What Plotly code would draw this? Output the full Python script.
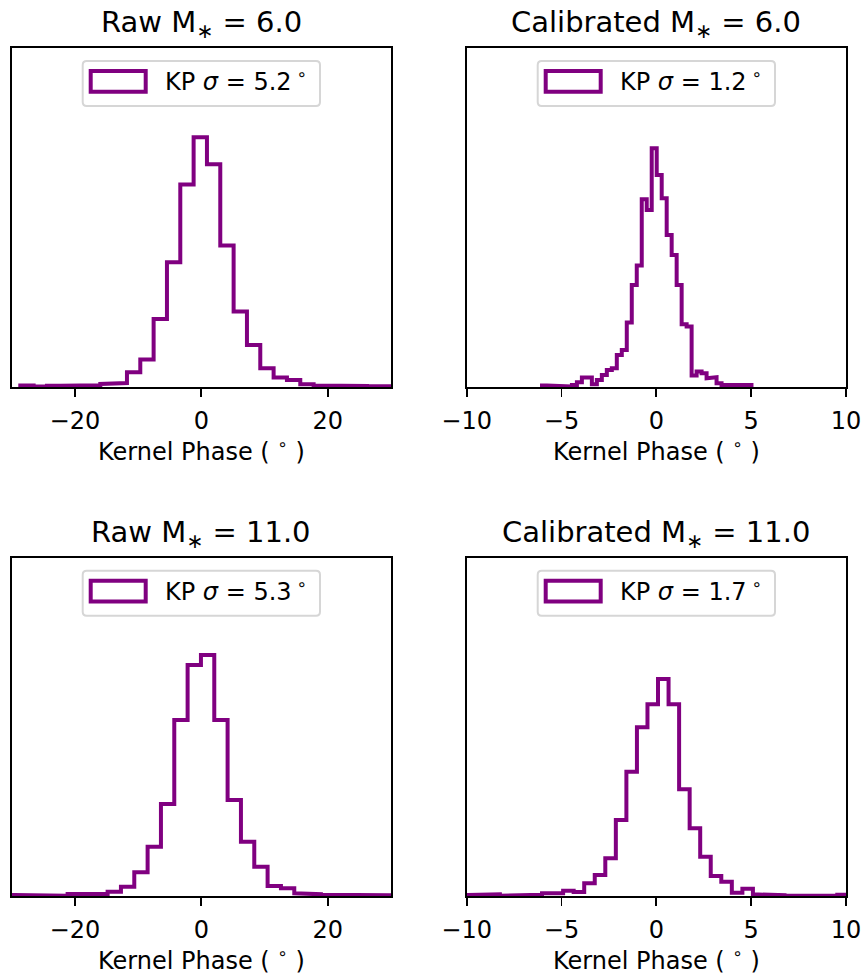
import plotly.graph_objects as go

W, H = 867, 979          # picture size
PURPLE = "#800080"
FONT = "DejaVu Sans"

# ---------------- data (bin start, bin width, counts in relative units) ----------------
raw6_start, raw6_width = -28.64, 2.109
raw6_counts = [1.7, 0.8, 1.5, 1.7, 1.2, 2.0, 3.3, 4.3, 15.0, 27.7, 68.3, 125.0, 202.7, 250.0,
               223.0, 141.7, 75.7, 42.3, 19.0, 9.7, 7.3, 3.0, 1.7, 2.3, 1.3, 1.3, 1.0, 1.0]

cal6_start, cal6_width = -6.03, 0.263
cal6_counts = [1.7, 1.7, 1.7, 1.7, 1.7, 0.7, 2.3, 5.0, 9.7, 9.7, 3.0, 7.3, 12.3, 17.3, 19.0,
               32.3, 37.3, 64.7, 102.3, 121.7, 188.0, 177.3, 239.0, 212.3, 189.0, 152.3, 132.3,
               102.3, 63.0, 60.7, 11.7, 15.7, 14.0, 9.0, 10.0, 4.0, 2.3, 2.3, 2.3, 2.3, 2.3, 2.3]

raw11_start, raw11_width = -31.7, 2.109
raw11_counts = [1.0, 1.0, 0.3, 0.3, 0.3, 2.0, 1.3, 2.0, 4.3, 9.3, 23.7, 49.3, 92.0, 176.0, 231.0,
                241.0, 176.0, 96.0, 54.3, 29.3, 10.0, 7.7, 2.7, 1.7, 1.3, 0.7, 0.7, 0.7, 0.7, 0.7]

cal11_start, cal11_width = -10.476, 0.556
cal11_counts = [1.0, 1.0, 1.7, 1.7, 0.3, 0.3, 1.3, 1.3, 2.7, 2.7, 5.3, 4.0, 12.7, 21.0, 37.7, 76.0,
                124.3, 168.7, 191.7, 217.0, 191.7, 106.7, 67.7, 39.3, 20.0, 14.3, 3.3, 7.3, 1.7,
                0.7, 0.7, 0.2, 0.2, 0.2, 0.2, 0.2, 1.3]

titles = ["Raw M<sub>∗</sub> = 6.0", "Calibrated M<sub>∗</sub> = 6.0",
          "Raw M<sub>∗</sub> = 11.0", "Calibrated M<sub>∗</sub> = 11.0"]
sigmas = ["5.2", "1.2", "5.3", "1.7"]
xlabel = "Kernel Phase ( <sup>∘</sup> )"
raw_ticks = [-20, 0, 20]
cal_ticks = [-10, -5, 0, 5, 10]
raw_range = [-30, 30]
cal_range = [-10, 10]
y_max = [339, 339, 338, 338]

hists = [(raw6_start, raw6_width, raw6_counts),
         (cal6_start, cal6_width, cal6_counts),
         (raw11_start, raw11_width, raw11_counts),
         (cal11_start, cal11_width, cal11_counts)]

# ---------------- layout geometry (pixels in the picture) ----------------
col_x = [(11.7, 391.0), (466.7, 846.0)]
row_y = [(48.3, 387.3), (558.0, 896.0)]


def px(x):
    return x / W


def py(y):
    return 1 - y / H


def fmt(v):
    return ("−" + str(-v)) if v < 0 else str(v)


fig = go.Figure()

for i, (start, width, counts) in enumerate(hists):
    edges = [start + width * k for k in range(len(counts) + 1)]
    xs, ys = [edges[0]], [0]
    for k, c in enumerate(counts):
        xs += [edges[k], edges[k + 1]]
        ys += [c, c]
    xs.append(edges[-1])
    ys.append(0)
    n = "" if i == 0 else str(i + 1)
    fig.add_trace(go.Scatter(x=xs, y=ys, mode="lines", xaxis="x" + n, yaxis="y" + n,
                             line=dict(color=PURPLE, width=4), showlegend=False,
                             hoverinfo="skip"))

shapes = []
annotations = []
for i in range(4):
    r, c = divmod(i, 2)
    L, R = col_x[c]
    T, B = row_y[r]
    n = "" if i == 0 else str(i + 1)
    ticks = raw_ticks if c == 0 else cal_ticks
    fig.layout["xaxis" + n] = dict(
        domain=[px(L), px(R)], anchor="y" + n,
        range=raw_range if c == 0 else cal_range,
        tickmode="array", tickvals=ticks, ticktext=[fmt(t) for t in ticks],
        ticks="outside", ticklen=8, tickwidth=1.9, tickcolor="black",
        showline=True, linecolor="black", linewidth=1.9, mirror=True,
        showgrid=False, zeroline=False, automargin=False, fixedrange=True,
        tickfont=dict(family=FONT, size=24, color="black"),
        ticklabelstandoff=3,
    )
    fig.layout["yaxis" + n] = dict(
        domain=[py(B), py(T)], anchor="x" + n, range=[0, y_max[i]],
        showticklabels=False, ticks="", showline=True, linecolor="black",
        linewidth=1.9, mirror=True, showgrid=False, zeroline=False, automargin=False,
        fixedrange=True,
    )
    cx = (L + R) / 2
    # title
    annotations.append(dict(text=titles[i], x=px(cx), y=py(T - 24.5), xref="paper",
                            yref="paper", xanchor="center", yanchor="middle",
                            showarrow=False, font=dict(family=FONT, size=29, color="black")))
    # x label
    annotations.append(dict(text=xlabel, x=px(cx), y=py(B + 62.5), xref="paper",
                            yref="paper", xanchor="center", yanchor="middle",
                            showarrow=False, font=dict(family=FONT, size=24, color="black")))
    # legend frame (rounded)
    x0, x1 = L + 71, L + 308.3
    y0, y1 = T + 12.7, T + 57.7
    rr = 4
    path = (f"M {px(x0 + rr)} {py(y0)} L {px(x1 - rr)} {py(y0)} "
            f"Q {px(x1)} {py(y0)} {px(x1)} {py(y0 + rr)} L {px(x1)} {py(y1 - rr)} "
            f"Q {px(x1)} {py(y1)} {px(x1 - rr)} {py(y1)} L {px(x0 + rr)} {py(y1)} "
            f"Q {px(x0)} {py(y1)} {px(x0)} {py(y1 - rr)} L {px(x0)} {py(y0 + rr)} "
            f"Q {px(x0)} {py(y0)} {px(x0 + rr)} {py(y0)} Z")
    shapes.append(dict(type="path", path=path, xref="paper", yref="paper",
                       line=dict(color="#d6d6d6", width=2), fillcolor="rgba(255,255,255,0.8)",
                       layer="above"))
    shapes.append(dict(type="rect", xref="paper", yref="paper",
                       x0=px(L + 79), x1=px(L + 134), y0=py(T + 43.4), y1=py(T + 22.7),
                       line=dict(color=PURPLE, width=4), fillcolor="white", layer="above"))
    annotations.append(dict(text=f"KP <i>σ</i> = {sigmas[i]}\u2009<sup>∘</sup>",
                            x=px(L + 151.5), y=py(T + 32), xref="paper", yref="paper",
                            xanchor="left", yanchor="middle", showarrow=False,
                            font=dict(family=FONT, size=24, color="black")))

fig.update_layout(
    width=W, height=H, margin=dict(l=0, r=0, t=0, b=0, autoexpand=False),
    paper_bgcolor="white", plot_bgcolor="white",
    shapes=shapes, annotations=annotations, showlegend=False,
)

fig.write_html("out.html", config={"displayModeBar": False, "staticPlot": True},
               post_script="document.body.style.margin='0';document.body.style.overflow='hidden';")
